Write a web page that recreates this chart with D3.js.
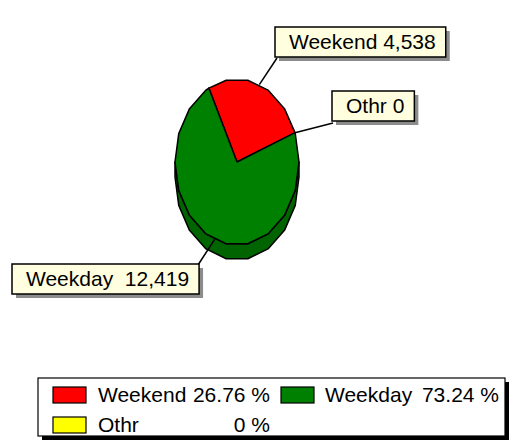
<!DOCTYPE html>
<html>
<head>
<meta charset="utf-8">
<script src="https://cdn.jsdelivr.net/npm/d3@7"></script>
<style>
  html, body { margin: 0; padding: 0; background: #fff; }
  text { font-family: "Liberation Sans", Arial, Helvetica, sans-serif; }
</style>
</head>
<body>
<div id="chart"></div>
<script>
// chart data
const categories = ["Weekend", "Weekday", "Othr"];
const values = [4538, 12419, 0];
const colors = ["#ff0000", "#008000", "#ffff00"];
const sideColors = ["#b00000", "#006400", "#b0b000"];

const width = 510, height = 441;
const fontSize = 21;

const svg = d3.select("#chart").append("svg").attr("width", width).attr("height", height);

// pie geometry (tall ellipse seen at an angle, with a thin side)
const cx = 237, cy = 162, rx = 62, ry = 83, depth = 15;
const rad = Math.PI / 180;
const startA = 69.3 * rad;

const pie = d3.pie().sort(null).value(d => d.value)
    .startAngle(startA).endAngle(startA - 2 * Math.PI);
const data = categories.map((c, i) => ({ name: c, value: values[i], color: colors[i], side: sideColors[i] }));
const arcs = pie(data);

function px(a) { return cx + rx * Math.sin(a); }
function py(a) { return cy - ry * Math.cos(a); }

// facet vertices every 20 degrees
function edgeAngles(a0, a1) {
    let out = [a0];
    let lo = Math.min(a0, a1), hi = Math.max(a0, a1);
    let vs = [];
    for (let k = -40; k < 40; k++) {
        let v = (10 + 20 * k) * rad;
        if (v > lo + 1e-6 && v < hi - 1e-6) vs.push(v);
    }
    if (a1 < a0) vs.reverse();
    out = out.concat(vs);
    out.push(a1);
    return out;
}

const line = d3.line();

// side
let topSide = edgeAngles(90 * rad, 270 * rad).map(a => [px(a), py(a)]);
let botSide = edgeAngles(270 * rad, 90 * rad).map(a => [px(a), py(a) + depth]);
svg.append("path")
    .attr("d", line(topSide.concat(botSide)) + "Z")
    .attr("fill", sideColors[1])
    .attr("stroke", "#000")
    .attr("stroke-width", 1.5)
    .attr("stroke-linejoin", "round");

// top slices
svg.selectAll("path.slice")
    .data(arcs.filter(d => d.startAngle !== d.endAngle))
    .enter()
    .append("path")
    .attr("class", "slice")
    .attr("d", d => line([[cx, cy]].concat(edgeAngles(d.startAngle, d.endAngle).map(a => [px(a), py(a)]))) + "Z")
    .attr("fill", d => d.data.color)
    .attr("stroke", "#000")
    .attr("stroke-width", 1.5)
    .attr("stroke-linejoin", "round");

// callout labels
const fmt = d3.format(",");
const labelBoxes = [
    { x: 275, y: 27, lx: 277, ly: 58, sep: " " },
    { x: 12, y: 264, lx: 198, ly: 265, sep: "  " },
    { x: 332, y: 91, lx: 333, ly: 123, sep: " " }
];

arcs.forEach((d, i) => {
    let b = labelBoxes[i];
    let mid = (d.startAngle + d.endAngle) / 2;
    svg.append("line")
        .attr("x1", b.lx).attr("y1", b.ly)
        .attr("x2", px(mid)).attr("y2", py(mid))
        .attr("stroke", "#000").attr("stroke-width", 1.5);

    let g = svg.append("g").attr("transform", "translate(" + b.x + "," + b.y + ")");
    let shadow = g.append("rect").attr("fill", "#8c8c8c");
    let box = g.append("rect").attr("fill", "#ffffe0").attr("stroke", "#000").attr("stroke-width", 1.5);
    let t = g.append("text")
        .attr("x", 14).attr("y", 22)
        .attr("font-size", fontSize)
        .attr("xml:space", "preserve")
        .style("white-space", "pre")
        .text(d.data.name + b.sep + fmt(d.data.value));
    let w = t.node().getComputedTextLength() + 24;
    box.attr("width", w).attr("height", 30);
    shadow.attr("x", 4).attr("y", 4).attr("width", w).attr("height", 30);
});

// legend
const total = d3.sum(values);
const pct = v => (v === 0 ? "0" : d3.format(".2f")(v / total * 100)) + " %";
const legendCols = [{ sw: 53, name: 98, right: 270 }, { sw: 281, name: 325, right: 499 }];
const legendRows = [387, 417];

svg.append("rect").attr("x", 42).attr("y", 382).attr("width", 467).attr("height", 58).attr("fill", "#000");
svg.append("rect").attr("x", 38).attr("y", 378).attr("width", 467).attr("height", 58)
    .attr("fill", "#fff").attr("stroke", "#000").attr("stroke-width", 1.2);

data.forEach((d, i) => {
    let col = legendCols[i % 2], row = legendRows[Math.floor(i / 2)];
    svg.append("rect").attr("x", col.sw).attr("y", row).attr("width", 33).attr("height", 16)
        .attr("fill", d.color).attr("stroke", "#000").attr("stroke-width", 1.2);
    svg.append("text").attr("x", col.name).attr("y", row + 15).attr("font-size", fontSize).text(d.name);
    svg.append("text").attr("x", col.right).attr("y", row + 15).attr("font-size", fontSize)
        .attr("text-anchor", "end").text(pct(d.value));
});
</script>
</body>
</html>
